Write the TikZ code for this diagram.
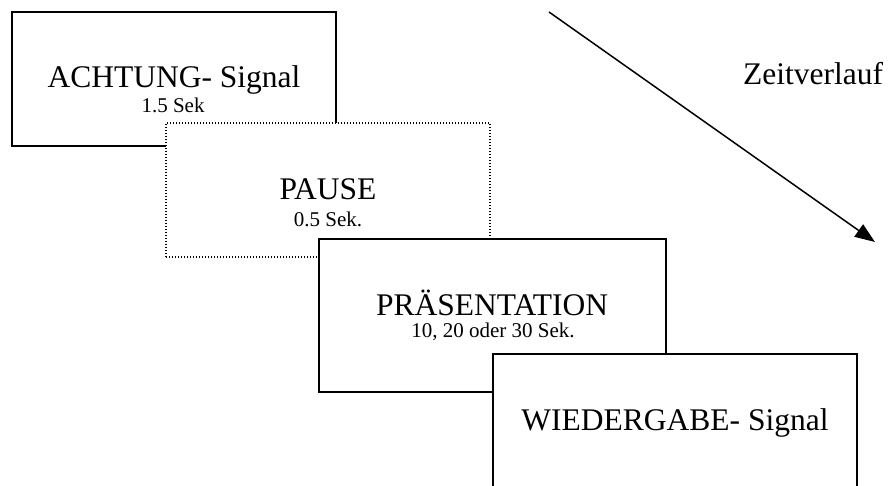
\documentclass[tikz,border=0pt]{standalone}
\usepackage{fontspec}
\setmainfont{Liberation Serif}
\usetikzlibrary{arrows.meta}

\tikzstyle{stufe} = [rectangle, draw=black, line width=2pt, fill=white,
                     inner sep=0pt]
\tikzstyle{pausestufe} = [stufe, line width=1.3pt,
                          dash pattern=on 1.3pt off 1.7pt]
\tikzstyle{haupttext} = [anchor=base, inner sep=0pt,
                         font=\fontsize{31.5}{36}\selectfont]
\tikzstyle{dauertext} = [anchor=base, inner sep=0pt,
                         font=\fontsize{21}{24}\selectfont]
\tikzstyle{arrow} = [line width=1.5pt, -{Triangle[length=20pt,width=15pt]}]

\begin{document}
\begin{tikzpicture}[x=1pt, y=-1pt]
  \useasboundingbox (0,0) rectangle (888,486);
  \clip (0,0) rectangle (888,486);
  %blocks
  \node (achtung) [stufe, minimum width=324pt, minimum height=134pt]
        at (174,79) {};
  \node (achtungtxt) [haupttext] at (174,88) {ACHTUNG- Signal};
  \node (achtungdauer) [dauertext] at (173,113) {1.5 Sek};
  \node (pause) [pausestufe, minimum width=324pt, minimum height=134pt]
        at (328,190) {};
  \node (pausetxt) [haupttext] at (328,200) {PAUSE};
  \node (pausedauer) [dauertext] at (328,227) {0.5 Sek.};
  \node (praes) [stufe, minimum width=347pt, minimum height=153pt]
        at (492.5,315.5) {};
  \node (praestxt) [haupttext] at (492,315) {PRÄSENTATION};
  \node (praesdauer) [dauertext] at (493,337) {10, 20 oder 30 Sek.};
  \node (wieder) [stufe, minimum width=364pt, minimum height=140pt]
        at (675,424) {};
  \node (wiedertxt) [haupttext] at (675,430) {WIEDERGABE- Signal};
  %time axis
  \coordinate (zeitstart) at (549,12);
  \coordinate (zeitende) at (875,242);
  \draw [arrow] (zeitstart) -- (zeitende);
  \node (zeit) [haupttext] at (813,85) {Zeitverlauf};
\end{tikzpicture}
\end{document}
